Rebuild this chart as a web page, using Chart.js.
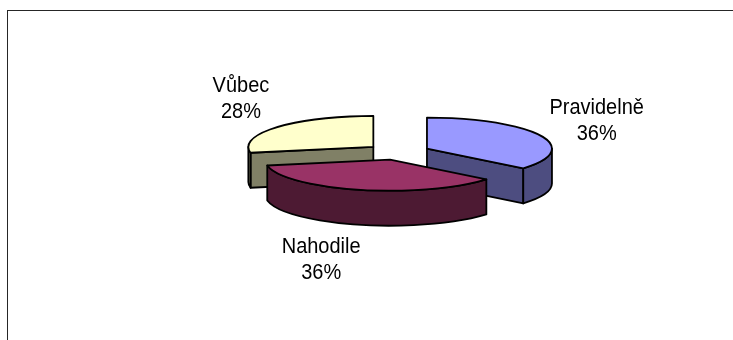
<!DOCTYPE html>
<html>
<head>
<meta charset="utf-8">
<script src="https://cdn.jsdelivr.net/npm/chart.js@4/dist/chart.umd.min.js"></script>
<style>
  html, body { margin: 0; padding: 0; background: #fff; overflow: hidden; }
  #wrap { position: relative; width: 733px; height: 340px; overflow: hidden; }
  #frame { position: absolute; left: 7px; top: 10px; width: 800px; height: 400px;
           border: 1px solid #262626; box-sizing: border-box; }
  #c { position: absolute; left: 0; top: 0; }
</style>
</head>
<body>
<div id="wrap">
  <div id="frame"></div>
  <canvas id="c" width="733" height="340"></canvas>
</div>
<script>
// Survey answers (share of respondents, %)
const categories = ['Pravidelně', 'Nahodile', 'Vůbec'];
const shares = [36, 36, 28];

// Face colours of the slices (top surface / side walls)
const topColors = ['#9999FF', '#993366', '#FFFFCC'];
const sideColors = ['#4D4D80', '#4D1A33', '#808066'];

// 3D look: vertical squash of the disc and thickness of the walls
const TILT = 0.248;
const DEPTH = 35;
const LABEL_GAP = 12;
const LINE_H = 26;
const TEXT_STRETCH = 1.12;
const CAP_HALF = 8;
const labelNudge = [[3, 0], [-25, -3.5], [-5, -6]];
const FONT = '20px "Liberation Sans", Arial, sans-serif';

function slices(chart) {
  const meta = chart.getDatasetMeta(0);
  return meta.data.map((arc, i) => {
    const p = arc.getProps(['x', 'y', 'startAngle', 'endAngle', 'outerRadius'], true);
    const mid = (p.startAngle + p.endAngle) / 2;
    const off = (arc.options.offset || 0) / 4; // same shift ArcElement applies
    return {
      i, mid, r: p.outerRadius, a0: p.startAngle, a1: p.endAngle,
      cx: p.x + Math.cos(mid) * off,
      cy: p.y + Math.sin(mid) * off * TILT
    };
  });
}

function pt(s, a, dz) {
  return [s.cx + s.r * Math.cos(a), s.cy + s.r * TILT * Math.sin(a) + (dz || 0)];
}

const pie3d = {
  id: 'pie3d',
  beforeDatasetsDraw(chart) {
    const ctx = chart.ctx;
    const list = slices(chart).sort((a, b) => a.cy - b.cy);
    ctx.save();
    ctx.lineWidth = 1.8;
    ctx.strokeStyle = '#000';
    ctx.lineJoin = 'round';
    list.forEach(s => {
      const side = sideColors[s.i];
      // radial cut faces that point toward the viewer
      const face = a => {
        const e = pt(s, a);
        ctx.beginPath();
        ctx.moveTo(s.cx, s.cy);
        ctx.lineTo(e[0], e[1]);
        ctx.lineTo(e[0], e[1] + DEPTH);
        ctx.lineTo(s.cx, s.cy + DEPTH);
        ctx.closePath();
        ctx.fillStyle = side;
        ctx.fill();
        ctx.stroke();
      };
      if (Math.cos(s.a0) < -1e-6) face(s.a0);
      if (Math.cos(s.a1) > 1e-6) face(s.a1);
      // curved outer wall on the front half
      const st = Math.max(s.a0, 0), en = Math.min(s.a1, Math.PI);
      if (en > st) {
        ctx.beginPath();
        ctx.ellipse(s.cx, s.cy, s.r, s.r * TILT, 0, st, en, false);
        const b = pt(s, en, DEPTH);
        ctx.lineTo(b[0], b[1]);
        ctx.ellipse(s.cx, s.cy + DEPTH, s.r, s.r * TILT, 0, en, st, true);
        ctx.closePath();
        ctx.fillStyle = side;
        ctx.fill();
        ctx.stroke();
      }
      // top surface
      ctx.beginPath();
      ctx.moveTo(s.cx, s.cy);
      ctx.ellipse(s.cx, s.cy, s.r, s.r * TILT, 0, s.a0, s.a1, false);
      ctx.closePath();
      ctx.fillStyle = topColors[s.i];
      ctx.fill();
      ctx.stroke();
    });
    ctx.restore();
    return false;
  },
  afterDraw(chart) {
    const ctx = chart.ctx;
    const total = shares.reduce((a, b) => a + b, 0);
    ctx.save();
    ctx.font = FONT;
    ctx.fillStyle = '#000';
    ctx.textAlign = 'center';
    ctx.textBaseline = 'alphabetic';
    slices(chart).forEach(s => {
      const lines = [categories[s.i], Math.round(shares[s.i] / total * 100) + '%'];
      const w = Math.max(...lines.map(t => ctx.measureText(t).width));
      const h = LINE_H * lines.length;
      const c = Math.cos(s.mid), sn = Math.sin(s.mid);
      const P = pt(s, s.mid, sn > 0 ? DEPTH : 0);
      const x = P[0] + c * (w / 2 + LABEL_GAP) + labelNudge[s.i][0];
      const y = P[1] + sn * (h / 2 + LABEL_GAP) + labelNudge[s.i][1];
      lines.forEach((t, j) => {
        const base = y - h / 2 + LINE_H * (j + 0.5) + CAP_HALF;
        ctx.save();
        ctx.translate(x, base);
        ctx.scale(1, TEXT_STRETCH);
        ctx.fillText(t, 0, 0);
        ctx.restore();
      });
    });
    ctx.restore();
  }
};

new Chart(document.getElementById('c'), {
  type: 'pie',
  data: {
    labels: categories,
    datasets: [{
      data: shares,
      backgroundColor: topColors,
      borderColor: '#000',
      borderWidth: 1,
      offset: 128,
      radius: 125
    }]
  },
  options: {
    responsive: false,
    animation: false,
    devicePixelRatio: 1,
    layout: { padding: { left: 63, right: 0, top: 0, bottom: 36 } },
    plugins: { legend: { display: false }, tooltip: { enabled: false } }
  },
  plugins: [pie3d]
});
</script>
</body>
</html>
